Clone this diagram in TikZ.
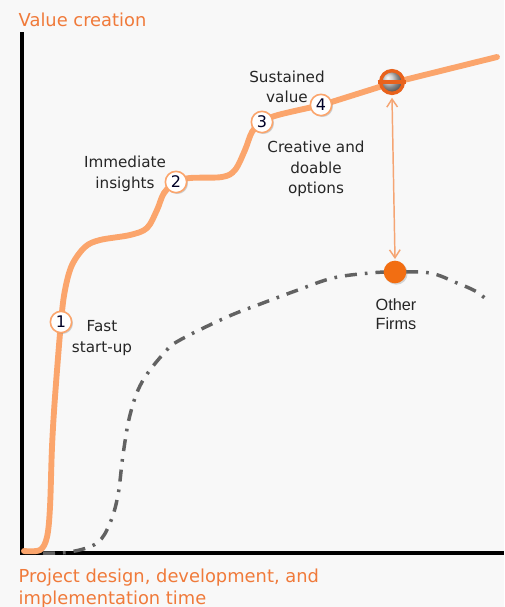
\documentclass[tikz,border=0pt]{standalone}
\usepackage{fontspec}
\setmainfont{DejaVu Sans}
\newfontfamily\arialf{Liberation Sans}
\usetikzlibrary{arrows.meta,shadows}
\definecolor{bgc}{HTML}{F8F8F8}
\definecolor{curveor}{HTML}{FBA56C}
\definecolor{titleor}{HTML}{F07A3A}
\definecolor{dotor}{HTML}{F26E12}
\definecolor{ringor}{HTML}{E8621C}
\definecolor{arrowor}{HTML}{F5A573}
\definecolor{dashgray}{HTML}{626262}
\definecolor{labtext}{HTML}{262626}
\tikzset{
  axis/.style={line width=2.3pt, black},
  valuecurve/.style={line width=4.4pt, curveor, line cap=round},
  othercurve/.style={line width=2.6pt, dashgray, dash pattern=on 9pt off 6pt on 2pt off 6pt},
  numcirc/.style={circle, draw=curveor, line width=1.2pt, fill=white, minimum size=16pt, inner sep=0pt,
    font=\fontsize{12}{13}\selectfont, text=black!85!blue, drop shadow={shadow xshift=1pt, shadow yshift=-1pt, opacity=0.35}},
  lab/.style={font=\fontsize{11.4}{15.4}\selectfont, text=labtext, align=center},
  axlab/.style={font=\fontsize{13.4}{16.5}\selectfont, text=titleor, align=left},
  dbl/.style={arrowor, line width=1.1pt, {Straight Barb[length=6pt,width=8pt]}-{Straight Barb[length=6pt,width=8pt]}}
}
\begin{document}
\begin{tikzpicture}[x=0.75pt,y=-0.75pt]
\fill[bgc] (0,0) rectangle (504,607);
\useasboundingbox (0,0) rectangle (504,607);
% axes
\coordinate (o) at (22,553);
\coordinate (ytop) at (22,32);
\coordinate (xend) at (504,553);
\draw[axis] (ytop) -- (o) -- (xend);
% other firms curve
\draw[othercurve] plot[smooth, tension=0.6] coordinates {(43,553) (70,552) (97,543) (110,523) (118,495) (123,455) (130,415) (142,382) (165,352) (180,340) (227,317) (263,303) (298,290) (333,278) (370,273) (395,272) (430,273) (457,283) (477,292) (490,303)};
% value curve
\draw[valuecurve] plot[smooth, tension=0.55] coordinates {(24,551) (40,550) (47,537) (50,507) (52,447) (55,397) (61,322) (65,290) (72,265) (85,247) (100,240) (130,235) (147,228) (157,210) (164,193) (176,182) (190,178) (222,177) (235,170) (245,150) (252,132) (262,122) (278,115) (322,105)};
\draw[valuecurve] (322,105) -- (392,83) -- (497,57);
% numbered circles
\node[numcirc] (n1) at (61,322) {1};
\node[numcirc] (n2) at (176,182) {2};
\node[numcirc] (n3) at (262,122) {3};
\node[numcirc] (n4) at (321,105) {4};
% marker
\node[circle, minimum size=17pt, inner sep=0pt, ball color=gray!50, draw=ringor, line width=2.6pt] (mk) at (392,82) {};
\draw[ringor, line width=2.4pt] ([xshift=-1pt]mk.west) -- ([xshift=1pt]mk.east);
% other firms dot
\node[circle, fill=dotor, minimum size=17pt, inner sep=0pt, drop shadow={shadow xshift=1pt, shadow yshift=-1pt, opacity=0.3}] (dot) at (395,272) {};
\draw[dbl] ([yshift=-2pt]mk.south) -- ([yshift=1pt]dot.north);
% labels
\node[lab] (l4) at (287,87) {Sustained\\value};
\node[lab] (l3) at (316,169) {Creative and\\doable\\options};
\node[lab] (l2) at (125,174) {Immediate\\insights};
\node[lab] (l1) at (102,338) {Fast\\start-up};
\node[font=\arialf\fontsize{12.2}{14.5}\selectfont, text=labtext, align=center] (lo) at (396,314) {Other\\Firms};
\node[axlab, anchor=west] (ly) at (14,20) {Value creation};
\node[axlab, anchor=north west] (lx) at (14,564) {Project design, development, and\\implementation time};
\end{tikzpicture}
\end{document}
